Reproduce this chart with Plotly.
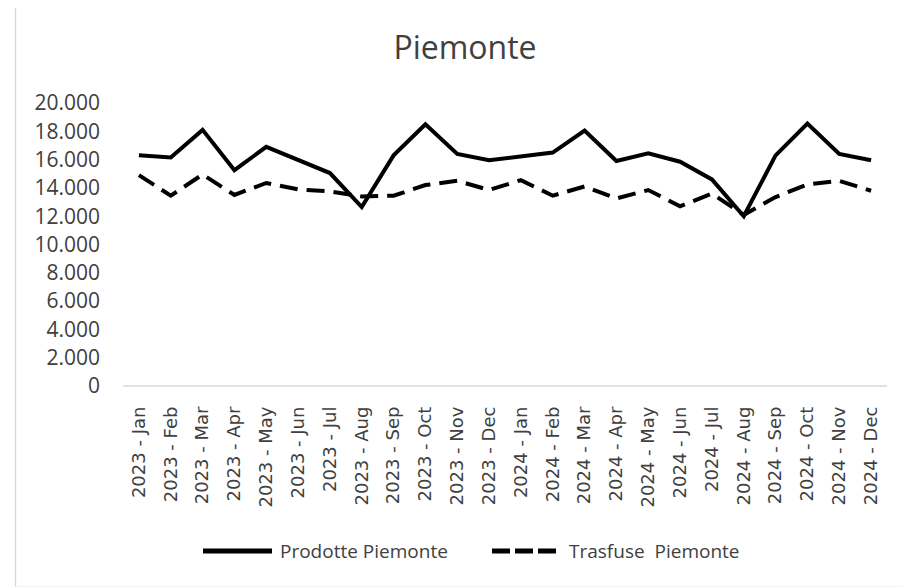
import plotly.graph_objects as go

months = ["2023 - Jan", "2023 - Feb", "2023 - Mar", "2023 - Apr", "2023 - May", "2023 - Jun",
          "2023 - Jul", "2023 - Aug", "2023 - Sep", "2023 - Oct", "2023 - Nov", "2023 - Dec",
          "2024 - Jan", "2024 - Feb", "2024 - Mar", "2024 - Apr", "2024 - May", "2024 - Jun",
          "2024 - Jul", "2024 - Aug", "2024 - Sep", "2024 - Oct", "2024 - Nov", "2024 - Dec"]
prodotte = [16300, 16150, 18100, 15250, 16900, 16000, 15050, 12650, 16300, 18500, 16400, 15950,
            16200, 16500, 18050, 15900, 16450, 15850, 14600, 12000, 16300, 18550, 16400, 15950]
trasfuse = [14900, 13450, 14950, 13500, 14350, 13900, 13750, 13400, 13450, 14200, 14500, 13850,
            14550, 13450, 14100, 13250, 13850, 12700, 13600, 12100, 13350, 14250, 14500, 13800]
y_ticks = [0, 2000, 4000, 6000, 8000, 10000, 12000, 14000, 16000, 18000, 20000]
series_names = ["Prodotte Piemonte", "Trasfuse  Piemonte"]
title_text = "Piemonte"

# page body has an 8px margin, so the figure starts 8px into the window
OFF = 8
SCR_W, SCR_H = 910, 587
W, H = SCR_W - OFF, SCR_H - OFF
# plot area in screen pixels: x 123..887, y 103..386
L_S, R_S, T_S, B_S = 123, 887, 103, 386
ML, MR, MT, MB = L_S - OFF, W - (R_S - OFF), T_S - OFF, H - (B_S - OFF)
PW, PH = W - ML - MR, H - MT - MB


def px_x(p):
    return (p - L_S) / PW


def px_y(p):
    return (B_S - p) / PH


TXT = "#404040"
BORDER = dict(color="#d9d9d9", width=1.5)

fig = go.Figure()
fig.add_trace(go.Scatter(x=months, y=prodotte, mode="lines", name=series_names[0],
                         line=dict(color="black", width=4), showlegend=False))
fig.add_trace(go.Scatter(x=months, y=trasfuse, mode="lines", name=series_names[1],
                         line=dict(color="black", width=4, dash="18px,9px"), showlegend=False))

shapes = [
    # chart border: left and top edges (right/bottom fall outside the window)
    dict(type="line", xref="paper", yref="paper", x0=px_x(15.5), x1=px_x(15.5),
         y0=px_y(590), y1=px_y(4.5), line=BORDER, layer="below"),
    dict(type="line", xref="paper", yref="paper", x0=px_x(15.5), x1=px_x(915),
         y0=px_y(4.5), y1=px_y(4.5), line=BORDER, layer="below"),
    dict(type="line", xref="paper", yref="paper", x0=px_x(15.5), x1=px_x(915),
         y0=px_y(587), y1=px_y(587), line=dict(color="#eeeeee", width=1.5), layer="below"),
    # x axis baseline
    dict(type="line", xref="paper", yref="paper", x0=0, x1=1, y0=0, y1=0,
         line=BORDER, layer="below"),
    # legend samples
    dict(type="line", xref="paper", yref="paper", x0=px_x(203), x1=px_x(272),
         y0=px_y(551), y1=px_y(551), line=dict(color="black", width=5)),
    dict(type="line", xref="paper", yref="paper", x0=px_x(492), x1=px_x(557),
         y0=px_y(551), y1=px_y(551), line=dict(color="black", width=5, dash="18px,5px")),
]

annotations = [
    dict(text=series_names[0], xref="paper", yref="paper", x=px_x(278), y=px_y(551),
         xanchor="left", yanchor="middle", showarrow=False,
         font=dict(family="Open Sans", size=19, color=TXT)),
    dict(text=series_names[1].replace("  ", "&nbsp; "), xref="paper", yref="paper",
         x=px_x(567), y=px_y(551),
         xanchor="left", yanchor="middle", showarrow=False,
         font=dict(family="Open Sans", size=19, color=TXT)),
]

fig.update_layout(
    width=W, height=H,
    margin=dict(l=ML, r=MR, t=MT, b=MB),
    paper_bgcolor="white", plot_bgcolor="white",
    separators=",.",
    title=dict(text=title_text, x=(465 - OFF) / W, xanchor="center",
               y=1 - (48 - OFF) / H, yanchor="middle",
               font=dict(family="Open Sans", size=32, color=TXT)),
    shapes=shapes,
    annotations=annotations,
    showlegend=False,
)
fig.update_xaxes(type="category", range=[-0.5, len(months) - 0.5], showgrid=False,
                 showline=False, zeroline=False, tickangle=-90, ticks="",
                 ticklabelstandoff=16,
                 tickfont=dict(family="DejaVu Sans", size=18, color=TXT))
fig.update_yaxes(range=[0, 20000], tickvals=y_ticks, tickformat=",d", showgrid=False,
                 showline=False, zeroline=False, ticks="", ticklabelstandoff=22,
                 tickfont=dict(family="Open Sans", size=21, color=TXT))

fig.write_html("out.html")
